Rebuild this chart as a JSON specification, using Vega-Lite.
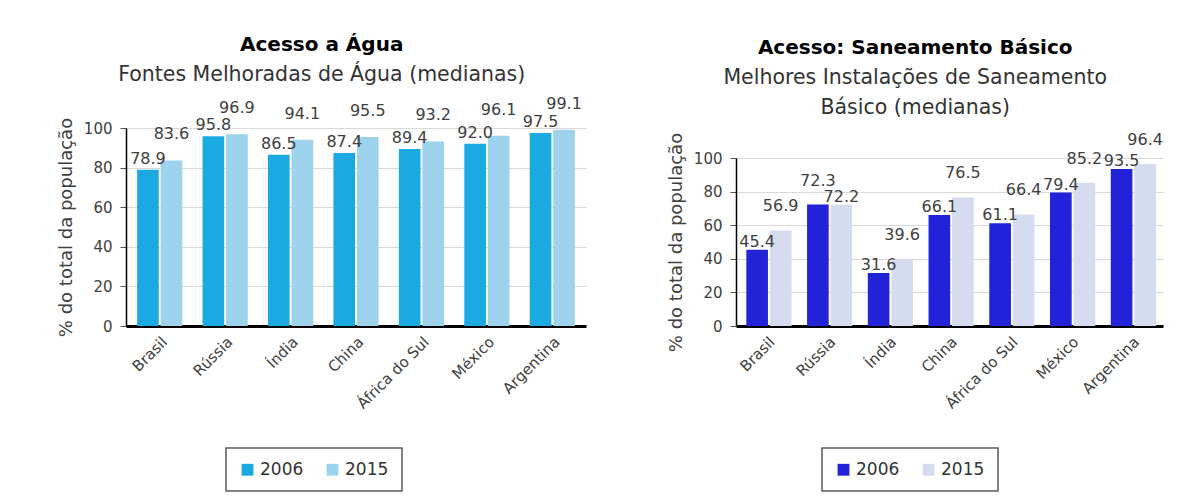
{
  "$schema": "https://vega.github.io/schema/vega-lite/v6.json",
  "background": "white",
  "padding": {"left": 57, "top": 35, "right": 5, "bottom": 5},
  "spacing": 81,
  "datasets": {
    "agua": [
      {"pais": "Brasil", "ano": "2006", "valor": 78.9},
      {"pais": "Brasil", "ano": "2015", "valor": 83.6},
      {"pais": "Rússia", "ano": "2006", "valor": 95.8},
      {"pais": "Rússia", "ano": "2015", "valor": 96.9},
      {"pais": "Índia", "ano": "2006", "valor": 86.5},
      {"pais": "Índia", "ano": "2015", "valor": 94.1},
      {"pais": "China", "ano": "2006", "valor": 87.4},
      {"pais": "China", "ano": "2015", "valor": 95.5},
      {"pais": "África do Sul", "ano": "2006", "valor": 89.4},
      {"pais": "África do Sul", "ano": "2015", "valor": 93.2},
      {"pais": "México", "ano": "2006", "valor": 92.0},
      {"pais": "México", "ano": "2015", "valor": 96.1},
      {"pais": "Argentina", "ano": "2006", "valor": 97.5},
      {"pais": "Argentina", "ano": "2015", "valor": 99.1}
    ],
    "saneamento": [
      {"pais": "Brasil", "ano": "2006", "valor": 45.4},
      {"pais": "Brasil", "ano": "2015", "valor": 56.9},
      {"pais": "Rússia", "ano": "2006", "valor": 72.3},
      {"pais": "Rússia", "ano": "2015", "valor": 72.2},
      {"pais": "Índia", "ano": "2006", "valor": 31.6},
      {"pais": "Índia", "ano": "2015", "valor": 39.6},
      {"pais": "China", "ano": "2006", "valor": 66.1},
      {"pais": "China", "ano": "2015", "valor": 76.5},
      {"pais": "África do Sul", "ano": "2006", "valor": 61.1},
      {"pais": "África do Sul", "ano": "2015", "valor": 66.4},
      {"pais": "México", "ano": "2006", "valor": 79.4},
      {"pais": "México", "ano": "2015", "valor": 85.2},
      {"pais": "Argentina", "ano": "2006", "valor": 93.5},
      {"pais": "Argentina", "ano": "2015", "valor": 96.4}
    ]
  },
  "config": {
    "font": "DejaVu Sans",
    "view": {"stroke": null},
    "title": {"fontSize": 20, "fontWeight": "bold", "color": "#000000", "subtitleFontSize": 20.5, "subtitleColor": "#333333", "subtitlePadding": 10, "subtitleLineHeight": 30, "anchor": "middle", "frame": "bounds", "offset": 10},
    "axisX": {"labelAngle": -45, "labelFontSize": 15, "labelColor": "#404040", "ticks": false, "domainColor": "#000000", "domainWidth": 3, "title": null, "labelPadding": 8, "grid": false},
    "axisY": {"labelFontSize": 15, "labelColor": "#404040", "titleFontSize": 18, "titleFontWeight": "normal", "titleColor": "#404040", "domainColor": "#000000", "domainWidth": 1.5, "tickColor": "#555555", "tickSize": 6, "gridColor": "#d9d9d9", "values": [0, 20, 40, 60, 80, 100], "labelPadding": 8, "titlePadding": 8},
    "legend": {"orient": "none", "direction": "horizontal", "title": null, "labelFontSize": 17, "labelColor": "#333333", "symbolType": "square", "symbolSize": 140, "symbolStrokeWidth": 0, "strokeColor": "#595959", "strokeWidth": 1.5, "padding": 13, "columnPadding": 20, "labelOffset": 4, "legendY": 320},
    "text": {"fontSize": 16, "color": "#404040", "baseline": "middle"}
  },
  "hconcat": [
    {
      "title": {"text": "Acesso a Água", "subtitle": "Fontes Melhoradas de Água (medianas)"},
      "width": 460,
      "height": 198,
      "data": {"name": "agua"},
      "transform": [{"joinaggregate": [{"op": "max", "field": "valor", "as": "maior"}], "groupby": ["pais"]}],
      "encoding": {
        "x": {"field": "pais", "type": "nominal", "sort": null, "scale": {"paddingInner": 0.31, "paddingOuter": 0.17}},
        "xOffset": {"field": "ano", "type": "nominal", "scale": {"paddingInner": 0.08}},
        "y": {"field": "valor", "type": "quantitative", "scale": {"domain": [0, 100]}, "axis": {"title": "% do total da população"}}
      },
      "layer": [
        {
          "mark": {"type": "bar"},
          "encoding": {
            "color": {"field": "ano", "type": "nominal", "scale": {"domain": ["2006", "2015"], "range": ["#1aa9e1", "#9ed3ee"]}, "legend": {"legendX": 100}}
          }
        },
        {
          "transform": [{"filter": "datum.valor < datum.maior"}],
          "mark": {"type": "text", "dy": -11},
          "encoding": {"text": {"field": "valor", "type": "quantitative", "format": ".1f"}}
        },
        {
          "transform": [{"filter": "datum.valor === datum.maior"}],
          "mark": {"type": "text", "dy": -26},
          "encoding": {"text": {"field": "valor", "type": "quantitative", "format": ".1f"}}
        }
      ]
    },
    {
      "title": {"text": "Acesso: Saneamento Básico", "subtitle": ["Melhores Instalações de Saneamento", "Básico (medianas)"]},
      "width": 427,
      "height": 198,
      "data": {"name": "saneamento"},
      "transform": [{"joinaggregate": [{"op": "max", "field": "valor", "as": "maior"}], "groupby": ["pais"]}],
      "encoding": {
        "x": {"field": "pais", "type": "nominal", "sort": null, "scale": {"paddingInner": 0.31, "paddingOuter": 0.17}},
        "xOffset": {"field": "ano", "type": "nominal", "scale": {"paddingInner": 0.08}},
        "y": {"field": "valor", "type": "quantitative", "scale": {"domain": [0, 100], "range": [198, 30]}, "axis": {"title": "% do total da população"}}
      },
      "layer": [
        {
          "mark": {"type": "bar"},
          "encoding": {
            "color": {"field": "ano", "type": "nominal", "scale": {"domain": ["2006", "2015"], "range": ["#2222d9", "#d6dcf0"]}, "legend": {"legendX": 86}}
          }
        },
        {
          "transform": [{"filter": "datum.valor < datum.maior"}],
          "mark": {"type": "text", "dy": -8},
          "encoding": {"text": {"field": "valor", "type": "quantitative", "format": ".1f"}}
        },
        {
          "transform": [{"filter": "datum.valor === datum.maior"}],
          "mark": {"type": "text", "dy": -24},
          "encoding": {"text": {"field": "valor", "type": "quantitative", "format": ".1f"}}
        }
      ]
    }
  ],
  "resolve": {"scale": {"color": "independent", "x": "independent", "y": "independent"}, "legend": {"color": "independent"}}
}
